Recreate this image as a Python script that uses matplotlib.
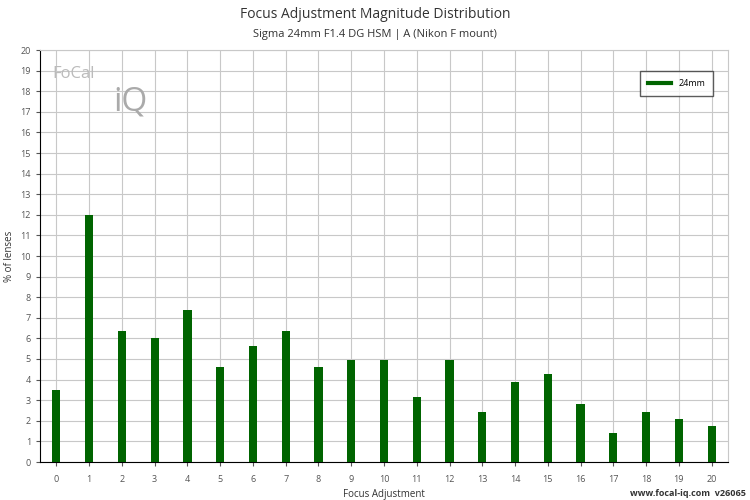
import matplotlib
matplotlib.use("Agg")
import matplotlib.pyplot as plt
from matplotlib.lines import Line2D

categories = list(range(21))
values = [3.5, 12.0, 6.35, 6.0, 7.4, 4.6, 5.65, 6.35, 4.6, 4.95, 4.95, 3.15, 4.95, 2.45, 3.9, 4.25, 2.8, 1.4, 2.45, 2.1, 1.75]
series_name = "24mm"

plt.rcParams['font.family'] = ['Open Sans', 'DejaVu Sans']
fig = plt.figure(figsize=(7.5, 5), dpi=100)
ax = fig.add_axes([40/750, 38/500, 688/750, 412/500])
ax.bar(categories, values, width=0.25, color='#006400', zorder=3)
ax.set_xlim(-0.5, 20.5)
ax.set_ylim(0, 20)
ax.set_xticks(categories)
ax.set_yticks(range(21))
ax.tick_params(labelsize=6.5, colors='#555555', length=3)
ax.tick_params(axis='x', pad=6)
ax.grid(True, color='#c8c8c8', linewidth=0.8, zorder=0)
for s in ['top', 'right']:
    ax.spines[s].set_color('#c8c8c8')
for s in ['left', 'bottom']:
    ax.spines[s].set_color('black')
ax.set_xlabel('Focus Adjustment', fontsize=7, color='#333333')
ax.set_ylabel('% of lenses', fontsize=7, color='#333333')
handle = Line2D([], [], color='#006400', linewidth=3)
ax.legend([handle], [series_name], loc='upper right', fontsize=6.5, frameon=True, fancybox=False,
          edgecolor='#333333', handlelength=2.5, borderpad=0.9,
          bbox_to_anchor=(0.985, 0.96))
fig.text(0.5, 0.965, 'Focus Adjustment Magnitude Distribution', ha='center', fontsize=10, color='#333333')
fig.text(0.5, 0.925, 'Sigma 24mm F1.4 DG HSM | A (Nikon F mount)', ha='center', fontsize=8, color='#333333')
fig.text(0.995, 0.008, 'www.focal-iq.com  v26065', ha='right', fontsize=6.5, color='#333333', weight='bold')
fig.text(52/750, 1-78/500, 'FoCal', fontsize=12, color='#bbbbbb')
fig.text(113/750, 1-110/500, 'iQ', fontsize=24, color='#aaaaaa')
fig.savefig('out.png', dpi=100)
